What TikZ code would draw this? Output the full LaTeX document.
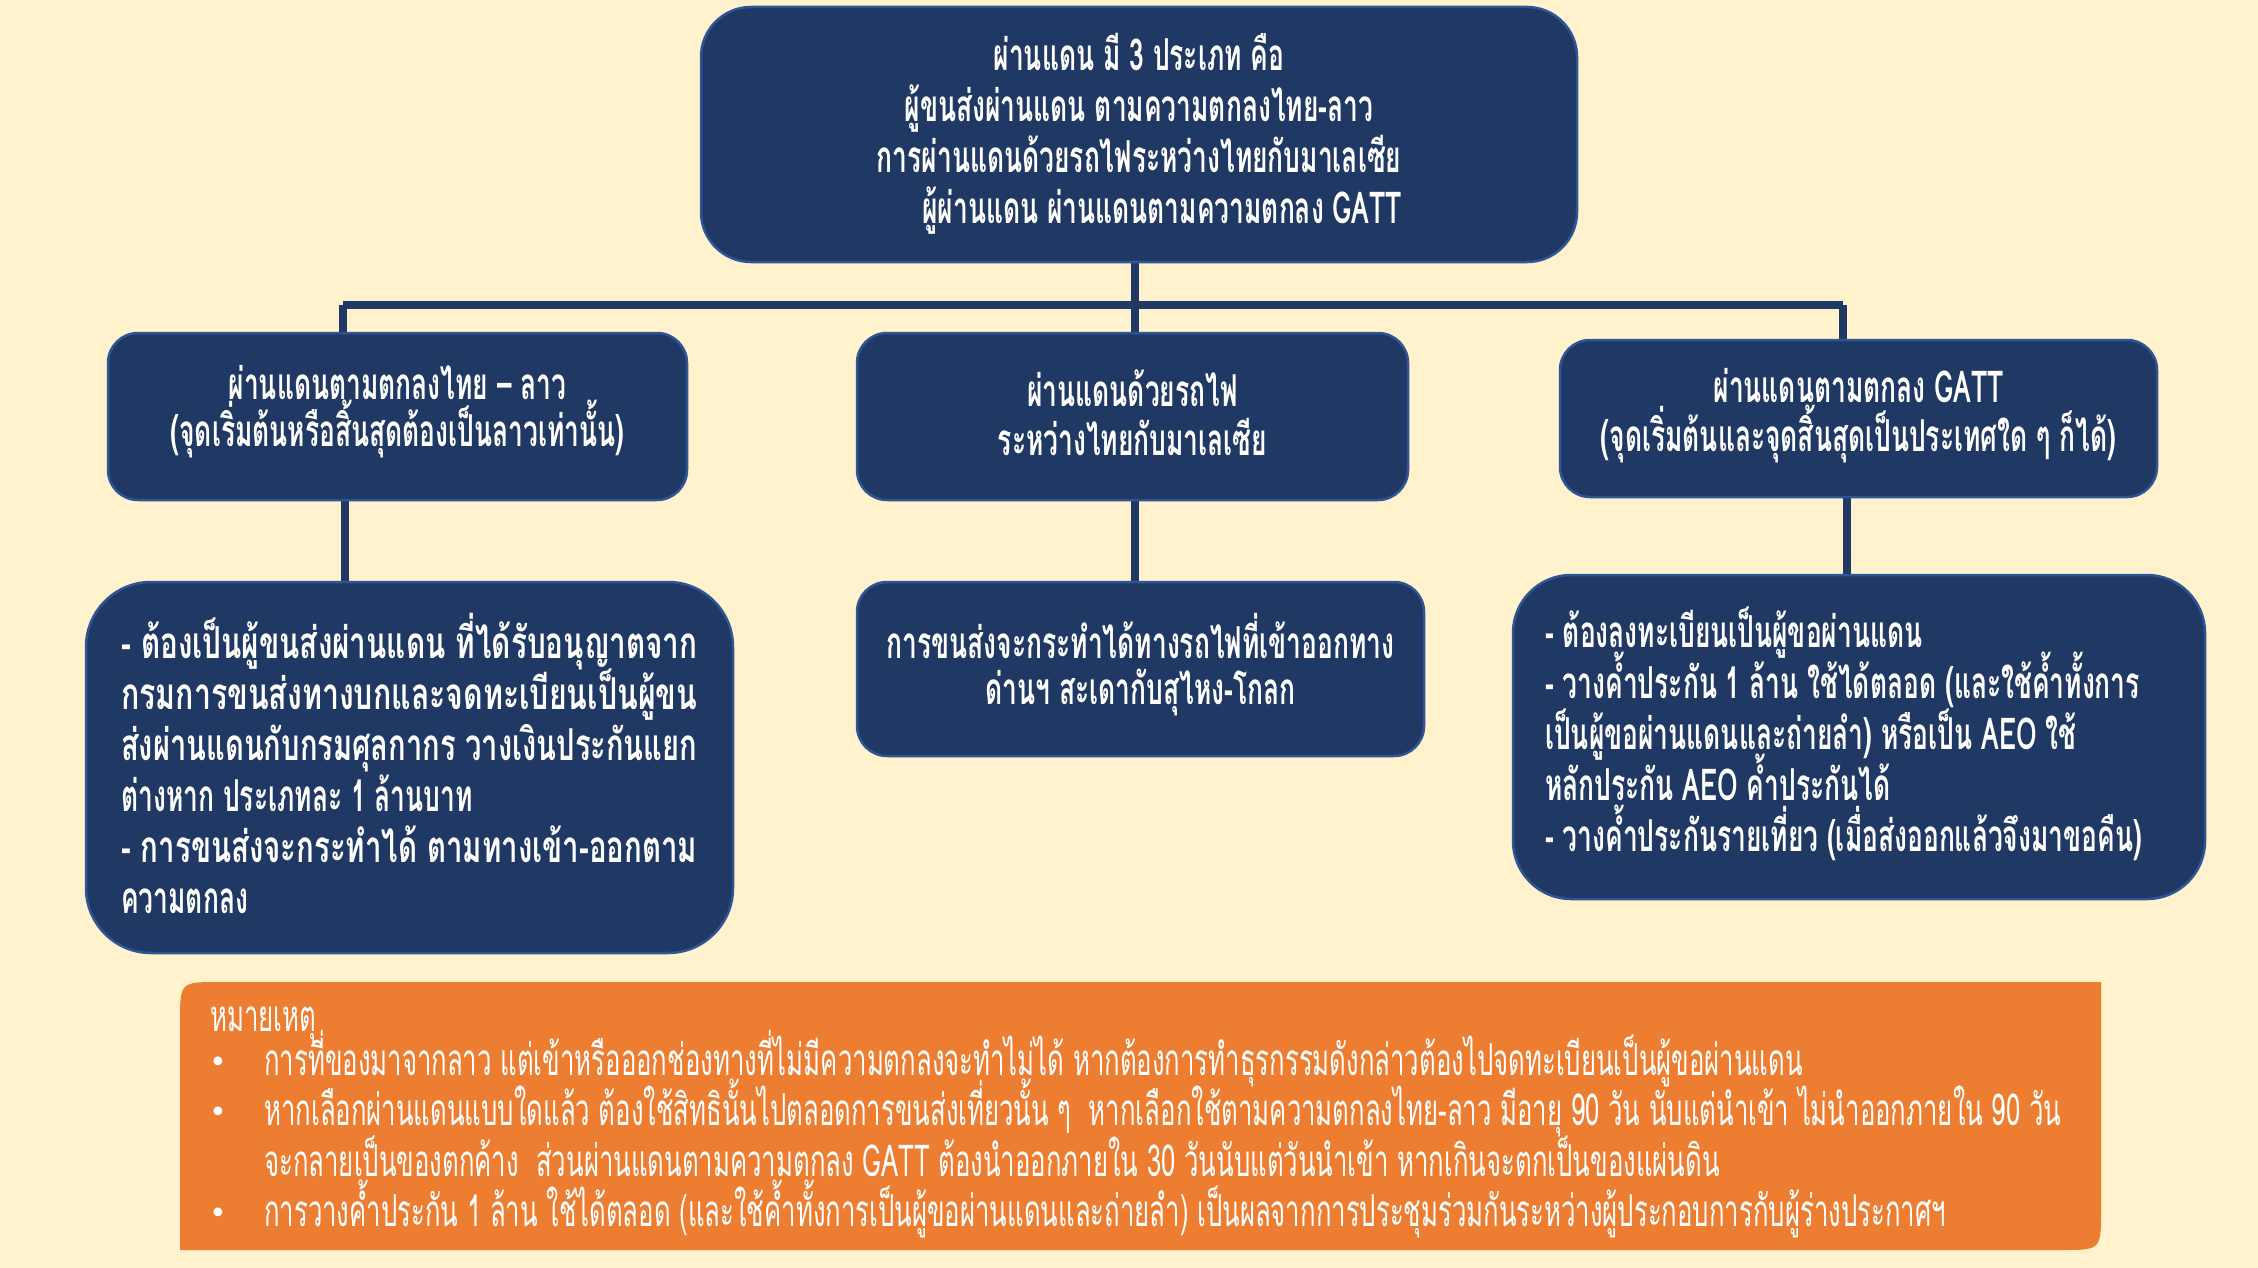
\documentclass[tikz,border=0pt]{standalone}
\usepackage{fontspec}
\usepackage{graphicx}
\usetikzlibrary{backgrounds}
\newfontfamily\thaib[Script=Thai,FakeStretch=0.6]{Loma}
\newfontfamily\thain[Script=Thai,FakeStretch=0.585]{Loma}
\newfontfamily\dejavu{DejaVu Sans}
\newcommand\jline[1]{\resizebox{576pt}{\height}{#1}}
\definecolor{cream}{HTML}{FFF2CC}
\definecolor{navy}{HTML}{203864}
\definecolor{edgeblue}{HTML}{2F5597}
\definecolor{noteorange}{HTML}{ED7D31}
\tikzset{
  nbox/.style={draw=edgeblue, line width=2.5pt, fill=navy, text=white,
    rounded corners=#1, inner sep=0pt, align=center},
  nbox/.default=30pt,
  btext/.style={text=white, inner sep=0pt, font=\thaib\bfseries\fontsize{44}{51}\selectfont},
  ntext/.style={text=white, inner sep=0pt, anchor=base west, font=\thain\fontsize{44}{51}\selectfont},
  bullet/.style={text=white, inner sep=0pt, anchor=base, font=\dejavu\fontsize{30}{30}\selectfont},
  conn/.style={draw=navy, line width=8pt}
}
\begin{document}
\lineskiplimit=-100pt
\lineskip=0pt
\begin{tikzpicture}[x=1pt,y=-1pt]
\useasboundingbox (0,0) rectangle (2258,1268);
% boxes
\node[nbox=50pt, minimum width=876pt, minimum height=255pt] (top) at (1139,134.5) {};
\node[btext, align=center] (toptxt) at (1139,134) {ผ่านแดน มี 3 ประเภท คือ\\ผู้ขนส่งผ่านแดน ตามความตกลงไทย-ลาว\\การผ่านแดนด้วยรถไฟระหว่างไทยกับมาเลเซีย\\\hspace*{46pt}ผู้ผ่านแดน ผ่านแดนตามความตกลง GATT};

\node[nbox=30pt, minimum width=579pt, minimum height=167pt] (la) at (397.5,416.5) {};
\node[btext, align=center, font=\thaib\bfseries\fontsize{44}{47}\selectfont] (latxt) at (397.5,412) {ผ่านแดนตามตกลงไทย – ลาว\\(จุดเริ่มต้นหรือสิ้นสุดต้องเป็นลาวเท่านั้น)};

\node[nbox=30pt, minimum width=551pt, minimum height=167pt] (lb) at (1132.5,416.5) {};
\node[btext, align=center, font=\thaib\bfseries\fontsize{44}{49}\selectfont] (lbtxt) at (1132.5,413) {ผ่านแดนด้วยรถไฟ\\ระหว่างไทยกับมาเลเซีย};

\node[nbox=30pt, minimum width=597pt, minimum height=157pt] (lc) at (1858.5,418.5) {};
\node[btext, align=center, font=\thaib\bfseries\fontsize{44}{49}\selectfont] (lctxt) at (1858.5,416) {ผ่านแดนตามตกลง GATT\\(จุดเริ่มต้นและจุดสิ้นสุดเป็นประเทศใด ๆ ก็ได้)};

\node[nbox=65pt, minimum width=647pt, minimum height=371pt] (da) at (409.5,767.5) {};
\node[btext, align=left, anchor=west] (datxt) at (121,763) {\jline{- ต้องเป็นผู้ขนส่งผ่านแดน ที่ได้รับอนุญาตจาก}\\\jline{กรมการขนส่งทางบกและจดทะเบียนเป็นผู้ขน}\\\jline{ส่งผ่านแดนกับกรมศุลกากร วางเงินประกันแยก}\\ต่างหาก ประเภทละ 1 ล้านบาท\\\jline{- การขนส่งจะกระทำได้ ตามทางเข้า-ออกตาม}\\ความตกลง};

\node[nbox=30pt, minimum width=567pt, minimum height=174pt] (db) at (1140.5,669) {};
\node[btext, align=center, font=\thaib\bfseries\fontsize{44}{46}\selectfont] (dbtxt) at (1140.5,665) {การขนส่งจะกระทำได้ทางรถไฟที่เข้าออกทาง\\ด่านฯ สะเดากับสุไหง-โกลก};

\node[nbox=58pt, minimum width=692pt, minimum height=324pt] (dc) at (1859,737) {};
\node[btext, align=left, anchor=west] (dctxt) at (1545,734) {- ต้องลงทะเบียนเป็นผู้ขอผ่านแดน\\- วางค้ำประกัน 1 ล้าน ใช้ได้ตลอด (และใช้ค้ำทั้งการ\\เป็นผู้ขอผ่านแดนและถ่ายลำ) หรือเป็น AEO ใช้\\หลักประกัน AEO ค้ำประกันได้\\- วางค้ำประกันรายเที่ยว (เมื่อส่งออกแล้วจึงมาขอคืน)};

% note box
\fill[noteorange] (180,1250) -- (180,1022) .. controls (180,982) .. (220,982) -- (2101,982) -- (2101,1210) .. controls (2101,1250) .. (2061,1250) -- cycle;
\node[ntext] (nh) at (210,1031) {หมายเหตุ};
\node[bullet] (b1) at (218,1072) {•};
\node[ntext] (n1) at (264,1075) {การที่ของมาจากลาว แต่เข้าหรือออกช่องทางที่ไม่มีความตกลงจะทำไม่ได้ หากต้องการทำธุรกรรมดังกล่าวต้องไปจดทะเบียนเป็นผู้ขอผ่านแดน};
\node[bullet] (b2) at (218,1122) {•};
\node[ntext] (n2) at (264,1125) {หากเลือกผ่านแดนแบบใดแล้ว ต้องใช้สิทธินั้นไปตลอดการขนส่งเที่ยวนั้น ๆ \ หากเลือกใช้ตามความตกลงไทย-ลาว มีอายุ 90 วัน นับแต่นำเข้า ไม่นำออกภายใน 90 วัน};
\node[ntext] (n3) at (264,1176) {จะกลายเป็นของตกค้าง \ ส่วนผ่านแดนตามความตกลง GATT ต้องนำออกภายใน 30 วันนับแต่วันนำเข้า หากเกินจะตกเป็นของแผ่นดิน};
\node[bullet] (b3) at (218,1223) {•};
\node[ntext] (n4) at (264,1226) {การวางค้ำประกัน 1 ล้าน ใช้ได้ตลอด (และใช้ค้ำทั้งการเป็นผู้ขอผ่านแดนและถ่ายลำ) เป็นผลจากการประชุมร่วมกันระหว่างผู้ประกอบการกับผู้ร่างประกาศฯ};

% connector junctions
\coordinate (jM) at (1135,305);
\coordinate (jL) at (343,305);
\coordinate (jR) at (1843,305);
\coordinate (kL) at (345,500);
\coordinate (kM) at (1135,500);
\coordinate (kR) at (1847,497);
\begin{pgfonlayer}{background}
\fill[cream] (0,0) rectangle (2258,1268);
\draw[conn] (top.south -| jM) -- (jM);
\draw[conn] (jL) -- (jR);
\draw[conn] (jL) -- (jL |- la.north);
\draw[conn] (jM) -- (jM |- lb.north);
\draw[conn] (jR) -- (jR |- lc.north);
\draw[conn] (kL) -- (kL |- da.north);
\draw[conn] (kM) -- (kM |- db.north);
\draw[conn] (kR) -- (kR |- dc.north);
\end{pgfonlayer}
\end{tikzpicture}
\end{document}
